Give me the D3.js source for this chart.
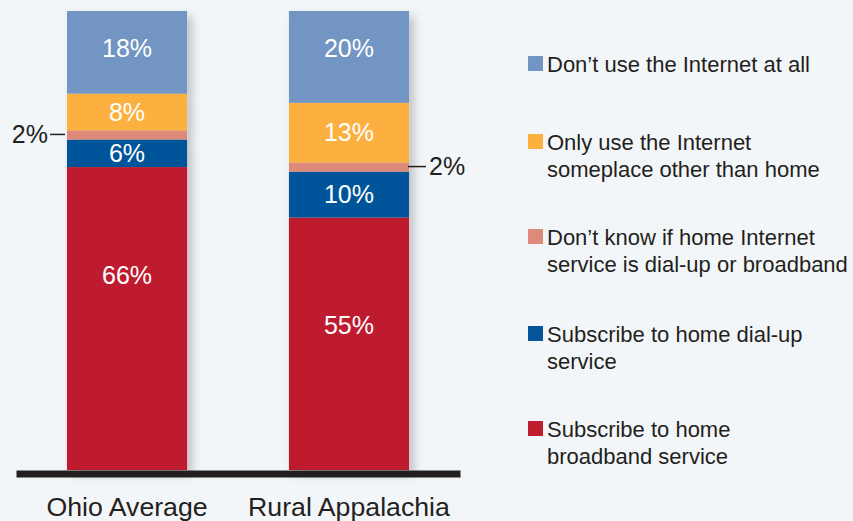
<!DOCTYPE html>
<html><head><meta charset="utf-8">
<script src="https://cdn.jsdelivr.net/npm/d3@7"></script>
<style>
html,body{margin:0;padding:0;background:#f3f6f9;}
svg{display:block;font-family:"Liberation Sans",Arial,sans-serif;}
</style></head>
<body>
<svg id="chart" width="853" height="521"></svg>
<script>
const categories = ["Ohio Average", "Rural Appalachia"];
const seriesNames = [
  "Subscribe to home broadband service",
  "Subscribe to home dial-up service",
  "Don\u2019t know if home Internet service is dial-up or broadband",
  "Only use the Internet someplace other than home",
  "Don\u2019t use the Internet at all"
];
const broadband = [66, 55];
const dialup = [6, 10];
const dontKnow = [2, 2];
const elsewhere = [8, 13];
const noInternet = [18, 20];
const colors = ["#be1e2d", "#04549a", "#de8a7a", "#fbb040", "#7295c3"];
const legendLines = [
  ["Don\u2019t use the Internet at all"],
  ["Only use the Internet", "someplace other than home"],
  ["Don\u2019t know if home Internet", "service is dial-up or broadband"],
  ["Subscribe to home dial-up", "service"],
  ["Subscribe to home", "broadband service"]
];
const legendColors = ["#7295c3", "#fbb040", "#de8a7a", "#04549a", "#be1e2d"];

const seriesValues = [broadband, dialup, dontKnow, elsewhere, noInternet];
const rows = categories.map((c, i) => {
  const r = {category: c};
  seriesNames.forEach((s, k) => r[s] = seriesValues[k][i]);
  return r;
});

const svg = d3.select("#chart");
const defs = svg.append("defs");
const f = defs.append("filter").attr("id", "shadow").attr("x", "-20%").attr("y", "-10%").attr("width", "150%").attr("height", "130%");
f.append("feDropShadow").attr("dx", 5).attr("dy", 5).attr("stdDeviation", 5)
  .attr("flood-color", "#000").attr("flood-opacity", 0.22);

const x = d3.scaleBand().domain(categories).range([16, 460]).paddingInner(0.459).paddingOuter(0.2297);
const y = d3.scaleLinear().domain([0, 100]).range([470, 11]);

const stack = d3.stack().keys(seriesNames)(rows);

const barG = svg.append("g").attr("filter", "url(#shadow)");
stack.forEach((layer, k) => {
  barG.selectAll(null).data(layer).join("rect")
    .attr("x", d => x(d.data.category))
    .attr("width", x.bandwidth())
    .attr("y", d => y(d[1]))
    .attr("height", d => y(d[0]) - y(d[1]))
    .attr("fill", colors[k]);
});

// value labels
const labelG = svg.append("g");
stack.forEach((layer, k) => {
  layer.forEach(d => {
    const v = d[1] - d[0];
    if (v < 3) return;
    const top = y(d[1]);
    const h = y(d[0]) - y(d[1]);
    const off = h > 150 ? 108 : (h > 80 ? 37 : h / 2);
    labelG.append("text")
      .attr("x", x(d.data.category) + x.bandwidth() / 2)
      .attr("y", top + off)
      .attr("dy", "0.35em")
      .attr("text-anchor", "middle")
      .attr("fill", "#fff")
      .attr("font-size", 25)
      .text(v + "%");
  });
});

// callouts for small segments
const smallLayer = stack[2];
smallLayer.forEach((d, i) => {
  const mid = (y(d[0]) + y(d[1])) / 2 - 0.5;
  const v = d[1] - d[0];
  if (i === 0) {
    const x0 = x(d.data.category);
    svg.append("line").attr("x1", x0 - 17).attr("x2", x0 - 2).attr("y1", mid).attr("y2", mid)
      .attr("stroke", "#231f20").attr("stroke-width", 1.5);
    svg.append("text").attr("x", x0 - 19).attr("y", mid).attr("dy", "0.35em")
      .attr("text-anchor", "end").attr("font-size", 25).attr("fill", "#231f20").text(v + "%");
  } else {
    const x1 = x(d.data.category) + x.bandwidth();
    svg.append("line").attr("x1", x1 - 1).attr("x2", x1 + 17).attr("y1", mid).attr("y2", mid)
      .attr("stroke", "#231f20").attr("stroke-width", 1.5);
    svg.append("text").attr("x", x1 + 20).attr("y", mid).attr("dy", "0.35em")
      .attr("text-anchor", "start").attr("font-size", 25).attr("fill", "#231f20").text(v + "%");
  }
});

// axis
const axis = svg.append("g").attr("transform", "translate(0,473.5)")
  .call(d3.axisBottom(x).tickSize(0).tickSizeOuter(0));
axis.select(".domain").attr("stroke", "#231f20").attr("stroke-width", 7);
axis.selectAll(".tick text").attr("y", 42.5).attr("dy", 0)
  .attr("font-size", 26.7).attr("fill", "#231f20").attr("font-family", "'Liberation Sans',Arial,sans-serif");

// legend
const legendFirstBaselines = [72, 150, 245, 342, 437];
const lg = svg.append("g");
legendLines.forEach((lines, i) => {
  const b = legendFirstBaselines[i];
  lg.append("rect").attr("x", 528).attr("y", b - 16).attr("width", 15).attr("height", 15)
    .attr("fill", legendColors[i]);
  const t = lg.append("text").attr("x", 547).attr("y", b).attr("font-size", 22).attr("fill", "#231f20");
  lines.forEach((ln, j) => {
    t.append("tspan").attr("x", 547).attr("y", b + j * 26.5).text(ln);
  });
});
</script>
</body></html>
